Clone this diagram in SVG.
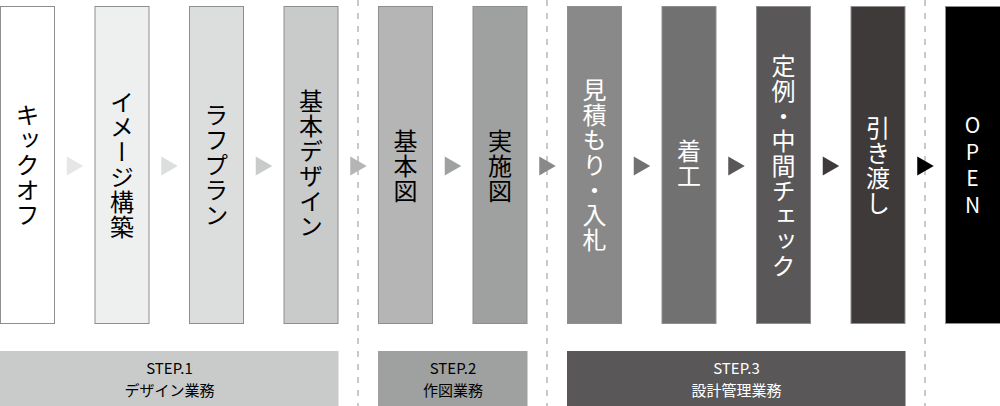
<svg xmlns="http://www.w3.org/2000/svg" width="1000" height="406" viewBox="0 0 1000 406">
<style>
.box{stroke:#8e8e8e;stroke-width:1}
.v{font-family:"Noto Sans CJK JP","Noto Sans",sans-serif;font-size:24px;writing-mode:vertical-rl;text-orientation:upright;letter-spacing:1px;text-anchor:middle}
.o{font-family:"Noto Sans CJK JP","Noto Sans",sans-serif;font-size:21px;writing-mode:vertical-rl;text-orientation:upright;letter-spacing:5.5px;text-anchor:middle;fill:#fff}
.dk{fill:#000}
.wt{fill:#fff}
.sep{stroke:#c9c9c9;stroke-width:2;stroke-dasharray:6 7;fill:none}
.bt{font-family:"Noto Sans CJK JP","Noto Sans",sans-serif;font-size:15px;text-anchor:middle}
</style>
<g id="separators">
<line class="sep" x1="358" y1="0" x2="358" y2="406"/>
<line class="sep" x1="547" y1="0" x2="547" y2="406"/>
<line class="sep" x1="925" y1="0" x2="925" y2="406"/>
</g>
<g id="n1"><rect class="box" x="0.5" y="6.5" width="54" height="317" fill="#ffffff"/><text class="v dk" x="27.5" y="165">キックオフ</text></g>
<g id="n2"><rect class="box" x="95" y="6.5" width="54" height="317" fill="#eeefef"/><text class="v dk" x="122" y="165">イメージ構築</text></g>
<g id="n3"><rect class="box" x="189.5" y="6.5" width="54" height="317" fill="#dcdddd"/><text class="v dk" x="216.5" y="165">ラフプラン</text></g>
<g id="n4"><rect class="box" x="284" y="6.5" width="54" height="317" fill="#c9caca"/><text class="v dk" x="311" y="164">基本デザイン</text></g>
<g id="n5"><rect class="box" x="378.5" y="6.5" width="54" height="317" fill="#b5b5b6"/><text class="v dk" x="405.5" y="166">基本図</text></g>
<g id="n6"><rect class="box" x="473" y="6.5" width="54" height="317" fill="#9fa0a0"/><text class="v dk" x="500" y="166">実施図</text></g>
<g id="n7"><rect class="box" x="567.5" y="6.5" width="54" height="317" fill="#898989"/><text class="v wt" x="594.5" y="165">見積もり・入札</text></g>
<g id="n8"><rect class="box" x="662" y="6.5" width="54" height="317" fill="#727171"/><text class="v wt" x="689" y="164">着工</text></g>
<g id="n9"><rect class="box" x="756.5" y="6.5" width="54" height="317" fill="#595757"/><text class="v wt" x="783.5" y="166">定例・中間チェック</text></g>
<g id="n10"><rect class="box" x="851" y="6.5" width="54" height="317" fill="#3e3a39"/><text class="v wt" x="878" y="166">引き渡し</text></g>
<g id="n11"><rect class="box" x="945.5" y="6.5" width="55" height="317" fill="#000000"/><text class="o" x="972.5" y="168">OPEN</text></g>
<g id="connectors">
<polygon points="66.75,156.5 83.25,166 66.75,175.5" fill="#e6e6e6"/>
<polygon points="161.25,156.5 177.75,166 161.25,175.5" fill="#dcdddd"/>
<polygon points="255.75,156.5 272.25,166 255.75,175.5" fill="#c9caca"/>
<polygon points="350.25,156.5 366.75,166 350.25,175.5" fill="#b5b5b6"/>
<polygon points="444.75,156.5 461.25,166 444.75,175.5" fill="#9fa0a0"/>
<polygon points="539.25,156.5 555.75,166 539.25,175.5" fill="#898989"/>
<polygon points="633.75,156.5 650.25,166 633.75,175.5" fill="#727171"/>
<polygon points="728.25,156.5 744.75,166 728.25,175.5" fill="#595757"/>
<polygon points="822.75,156.5 839.25,166 822.75,175.5" fill="#3e3a39"/>
<polygon points="917.25,156.5 933.75,166 917.25,175.5" fill="#000000"/>
</g>
<g id="step1"><rect x="0" y="351" width="338.5" height="55" fill="#c9caca"/><text class="bt dk" x="169.5" y="374">STEP.1</text><text class="bt dk" x="169.5" y="396">デザイン業務</text></g>
<g id="step2"><rect x="378" y="351" width="149.5" height="55" fill="#9fa0a0"/><text class="bt dk" x="453" y="374">STEP.2</text><text class="bt dk" x="453" y="396">作図業務</text></g>
<g id="step3"><rect x="567" y="351" width="338.5" height="55" fill="#595757"/><text class="bt wt" x="736.5" y="374">STEP.3</text><text class="bt wt" x="736.5" y="396">設計管理業務</text></g>
</svg>
